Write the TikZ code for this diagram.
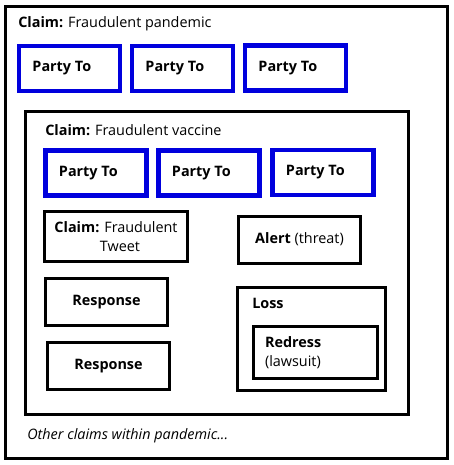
\documentclass[tikz,border=0pt]{standalone}
\usepackage{fontspec}
\setmainfont{Open Sans}
\usetikzlibrary{positioning}
\definecolor{ink}{HTML}{000000}
\definecolor{partyline}{HTML}{0000DD}
\newcommand{\ten}{\fontsize{10.8}{14}\selectfont}
\tikzset{
 every node/.append style={font=\ten,text=ink},
 frame/.style={draw=ink,line width=2.25pt,inner sep=0pt},
 party/.style={draw=partyline,line width=3.2pt,minimum width=75.75pt,minimum height=33.75pt,inner sep=0pt},
 piece/.style={frame,minimum width=91.5pt,minimum height=35.25pt,align=center},
 title/.style={anchor=west,inner sep=0pt},
}
\begin{document}
\begin{tikzpicture}[x=0.75pt,y=-0.75pt]

\useasboundingbox (0,0) rectangle (454,465);
% pandemic claim
\node[frame,minimum width=331.5pt,minimum height=339pt] (pandemic) at (226.5,232.5) {};
\node[title] (pandemictitle) at (18,24) {\textbf{Claim:} Fraudulent pandemic};
\node[party] (partyA) at (69.5,68.5) {};
\node[party] (partyB) at (182.5,68.5) {};
\node[party] (partyC) at (295.5,68) {};
\foreach \p in {partyA,partyB,partyC}
  \node[title,font=\ten\bfseries] at ([xshift=11.5pt]\p.west) {Party To};
% vaccine claim
\node[frame,minimum width=287.25pt,minimum height=227.25pt] (vaccine) at (217,263) {};
\node[title] (vaccinetitle) at (45,130) {\textbf{Claim:} Fraudulent vaccine};
\node[party] (partyD) at (96,173) {};
\node[party] (partyE) at (209,173) {};
\node[party] (partyF) at (323,172.5) {};
\foreach \p in {partyD,partyE,partyF}
  \node[title,font=\ten\bfseries] at ([xshift=11.5pt]\p.west) {Party To};
\node[piece,minimum width=107.25pt,minimum height=37.5pt] (tweet) at (116,236.5) {\textbf{Claim:} Fraudulent\\\hspace*{6pt}Tweet};
\node[piece] (alert) at (299.5,239.5) {\textbf{Alert} (threat)};
\node[piece,font=\ten\bfseries] (responseA) at (106.5,302) {Response};
\node[piece,font=\ten\bfseries] (responseB) at (108.5,366) {Response};
% loss and redress
\node[frame,minimum width=111pt,minimum height=77.25pt] (loss) at (311.5,339) {};
\node[title,font=\ten\bfseries] (losstitle) at (252,303) {Loss};
\node[frame,minimum width=92.25pt,minimum height=39pt,text width=75pt,inner xsep=9pt,align=left] (redress) at (315,352.5) {\textbf{Redress}\\(lawsuit)};
\node[title,font=\ten\itshape] (others) at (27,436) {Other claims within pandemic...};

\end{tikzpicture}
\end{document}
